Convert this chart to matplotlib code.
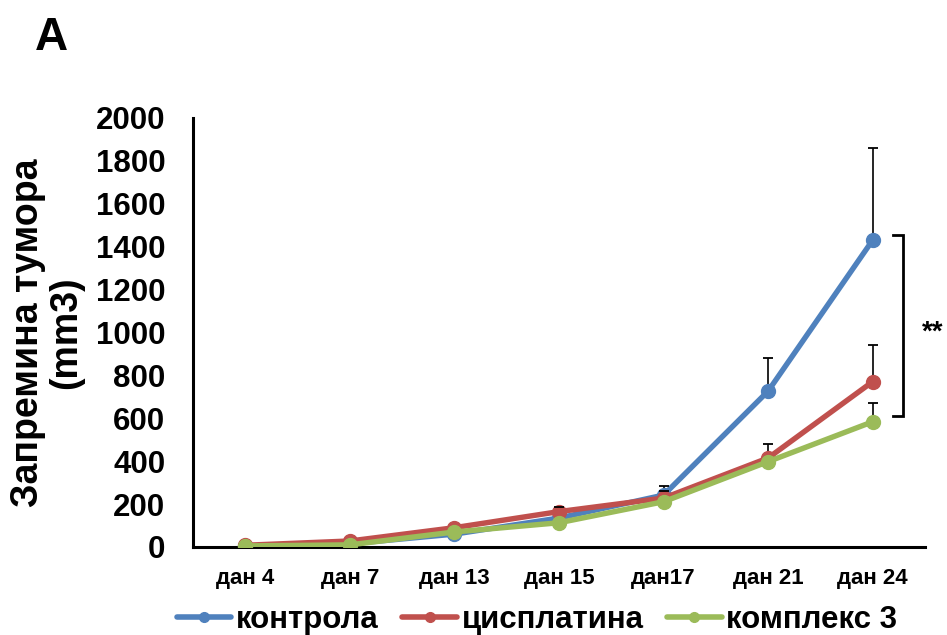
import numpy as np
import matplotlib
matplotlib.use("Agg")
import matplotlib.pyplot as plt

plt.rcParams['font.family'] = ['Liberation Sans', 'DejaVu Sans']
plt.rcParams['font.weight'] = 'bold'

days = ["дан 4", "дан 7", "дан 13", "дан 15", "дан17", "дан 21", "дан 24"]
series_names = ["контрола", "цисплатина", "комплекс 3"]

control = [5, 15, 60, 135, 242, 727, 1431]
control_err = [0, 0, 0, 0, 42, 156, 430]
cisplatin = [8, 28, 90, 165, 228, 415, 771]
cisplatin_err = [0, 0, 0, 22, 34, 65, 171]
complex3 = [5, 10, 70, 113, 211, 398, 584]
complex3_err = [0, 0, 0, 0, 0, 0, 89]

colors = ["#4F81BD", "#C0504D", "#9BBB59"]

fig = plt.figure(figsize=(9.47, 6.35), dpi=100)
ax = fig.add_axes([0.2038, 0.1386, 0.7730, 0.6756])

x = np.arange(len(days))
for vals, errs, c, name, z in zip([control, cisplatin, complex3],
                                  [control_err, cisplatin_err, complex3_err],
                                  colors, series_names, [3, 4, 5]):
    vals = np.array(vals, dtype=float)
    errs = np.array(errs, dtype=float)
    ax.plot(x, vals, color=c, lw=3.9, marker='o', markersize=10,
            label=name, zorder=z, solid_capstyle='round')
    # upper error bars only (stem under the markers, cap on top)
    m = errs > 0
    ax.vlines(x[m], vals[m], vals[m] + errs[m], colors='black',
              linewidth=1.2, zorder=2)
    ax.plot(x[m], vals[m] + errs[m], linestyle='none', marker='_',
            markersize=6.5, markeredgewidth=1.3, color='black', zorder=6)

ax.set_xlim(-0.5, 6.5)
ax.set_ylim(0, 2000)
ax.set_yticks(np.arange(0, 2001, 200))
ax.set_xticks(x)
ax.set_xticklabels(days, fontsize=16, fontweight='bold')
for lbl in ax.get_yticklabels():
    lbl.set_fontsize(22.5)
    lbl.set_fontweight('bold')
ax.tick_params(axis='both', length=0)
ax.tick_params(axis='y', pad=20)
ax.tick_params(axis='x', pad=15)

for s in ['top', 'right']:
    ax.spines[s].set_visible(False)
for s in ['left', 'bottom']:
    ax.spines[s].set_linewidth(2.2)
    ax.spines[s].set_color('black')

ax.set_ylabel("Запремина тумора\n(mm3)", fontsize=27, fontweight='bold',
              labelpad=8, linespacing=1.1)

# significance bracket between control and complex 3 at the last day
bx, bt, bb = 6.29, 1455, 611
ax.plot([6.19, bx, bx, 6.19], [bt, bt, bb, bb], color='black', lw=2,
        clip_on=False, solid_joinstyle='miter')
ax.text(6.57, 1000, "**", fontsize=20, fontweight='bold', ha='center',
        va='center', clip_on=False)

fig.text(35 / 947, 1 - 50 / 635, "A", fontsize=33, fontweight='bold',
         ha='left', va='baseline')

leg = fig.legend(loc='center', bbox_to_anchor=(537 / 947, 1 - 620 / 635),
                 ncol=3, frameon=False, prop={'size': 22.5, 'weight': 'bold'},
                 handlelength=1.75, handletextpad=0.15, columnspacing=0.75,
                 borderaxespad=0, borderpad=0)
for h in leg.legend_handles:
    h.set_markersize(7)
    h.set_linewidth(4)

fig.savefig("out.png", dpi=100)
